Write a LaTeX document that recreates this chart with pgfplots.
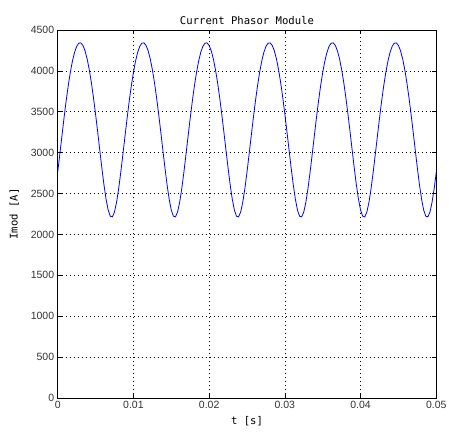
\documentclass[border=0pt]{standalone}
\usepackage{fontspec}
\setmainfont{Liberation Sans}
\newfontfamily\monofont{DejaVu Sans Mono}
\usepackage{pgfplots}
\pgfplotsset{compat=1.18}
\usepackage{pgfplotstable}

% Current phasor magnitude, 30 samples per 120 Hz ripple period
\pgfplotstableread{
t        imod
0.000000 2762.4
0.000278 2980.0
0.000556 3203.1
0.000833 3422.0
0.001111 3628.9
0.001389 3817.1
0.001667 3981.8
0.001944 4118.9
0.002222 4225.4
0.002500 4299.0
0.002778 4338.3
0.003056 4342.4
0.003333 4311.3
0.003611 4245.6
0.003889 4146.6
0.004167 4016.4
0.004444 3857.8
0.004722 3674.6
0.005000 3471.6
0.005278 3254.8
0.005556 3031.9
0.005833 2812.2
0.006111 2607.1
0.006389 2430.7
0.006667 2298.1
0.006944 2223.1
0.007222 2215.0
0.007500 2275.0
0.007778 2395.3
0.008056 2562.8
0.008333 2762.4
0.008611 2980.0
0.008889 3203.1
0.009167 3422.0
0.009444 3628.9
0.009722 3817.1
0.010000 3981.8
0.010278 4118.9
0.010556 4225.4
0.010833 4299.0
0.011111 4338.3
0.011389 4342.4
0.011667 4311.3
0.011944 4245.6
0.012222 4146.6
0.012500 4016.4
0.012778 3857.8
0.013056 3674.6
0.013333 3471.6
0.013611 3254.8
0.013889 3031.9
0.014167 2812.2
0.014444 2607.1
0.014722 2430.7
0.015000 2298.1
0.015278 2223.1
0.015556 2215.0
0.015833 2275.0
0.016111 2395.3
0.016389 2562.8
0.016667 2762.4
0.016944 2980.0
0.017222 3203.1
0.017500 3422.0
0.017778 3628.9
0.018056 3817.1
0.018333 3981.8
0.018611 4118.9
0.018889 4225.4
0.019167 4299.0
0.019444 4338.3
0.019722 4342.4
0.020000 4311.3
0.020278 4245.6
0.020556 4146.6
0.020833 4016.4
0.021111 3857.8
0.021389 3674.6
0.021667 3471.6
0.021944 3254.8
0.022222 3031.9
0.022500 2812.2
0.022778 2607.1
0.023056 2430.7
0.023333 2298.1
0.023611 2223.1
0.023889 2215.0
0.024167 2275.0
0.024444 2395.3
0.024722 2562.8
0.025000 2762.4
0.025278 2980.0
0.025556 3203.1
0.025833 3422.0
0.026111 3628.9
0.026389 3817.1
0.026667 3981.8
0.026944 4118.9
0.027222 4225.4
0.027500 4299.0
0.027778 4338.3
0.028056 4342.4
0.028333 4311.3
0.028611 4245.6
0.028889 4146.6
0.029167 4016.4
0.029444 3857.8
0.029722 3674.6
0.030000 3471.6
0.030278 3254.8
0.030556 3031.9
0.030833 2812.2
0.031111 2607.1
0.031389 2430.7
0.031667 2298.1
0.031944 2223.1
0.032222 2215.0
0.032500 2275.0
0.032778 2395.3
0.033056 2562.8
0.033333 2762.4
0.033611 2980.0
0.033889 3203.1
0.034167 3422.0
0.034444 3628.9
0.034722 3817.1
0.035000 3981.8
0.035278 4118.9
0.035556 4225.4
0.035833 4299.0
0.036111 4338.3
0.036389 4342.4
0.036667 4311.3
0.036944 4245.6
0.037222 4146.6
0.037500 4016.4
0.037778 3857.8
0.038056 3674.6
0.038333 3471.6
0.038611 3254.8
0.038889 3031.9
0.039167 2812.2
0.039444 2607.1
0.039722 2430.7
0.040000 2298.1
0.040278 2223.1
0.040556 2215.0
0.040833 2275.0
0.041111 2395.3
0.041389 2562.8
0.041667 2762.4
0.041944 2980.0
0.042222 3203.1
0.042500 3422.0
0.042778 3628.9
0.043056 3817.1
0.043333 3981.8
0.043611 4118.9
0.043889 4225.4
0.044167 4299.0
0.044444 4338.3
0.044722 4342.4
0.045000 4311.3
0.045278 4245.6
0.045556 4146.6
0.045833 4016.4
0.046111 3857.8
0.046389 3674.6
0.046667 3471.6
0.046944 3254.8
0.047222 3031.9
0.047500 2812.2
0.047778 2607.1
0.048056 2430.7
0.048333 2298.1
0.048611 2223.1
0.048889 2215.0
0.049167 2275.0
0.049444 2395.3
0.049722 2562.8
0.050000 2762.4
}\imodtable

\begin{document}
\begin{tikzpicture}
\useasboundingbox (-57.7pt,-34pt) rectangle (391.3pt,398pt);
\begin{axis}[
  at={(0pt,0pt)}, anchor=south west,
  scale only axis,
  width=378.6pt, height=368pt,
  xmin=0, xmax=0.05, ymin=0, ymax=4500,
  xtick={0,0.01,0.02,0.03,0.04,0.05},
  xticklabels={0,0.01,0.02,0.03,0.04,0.05},
  scaled x ticks=false,
  ytick={0,500,...,4500},
  /pgf/number format/1000 sep={},
  /pgf/number format/assume math mode=true,
  tick label style={font=\fontsize{10.5}{12}\selectfont, text=black!80},
  tick pos=both, tick align=inside,
  major tick length=4pt,
  tick style={black, line width=0.6pt},
  axis line style={black, line width=0.8pt},
  grid=major,
  major grid style={black, line width=0.6pt, dash pattern=on 0.8pt off 3.2pt},
  title={\monofont\fontsize{10.6}{12}\selectfont Current Phasor Module},
  title style={yshift=-4pt},
  xlabel={\monofont\fontsize{10.6}{12}\selectfont t [s]},
  ylabel={\monofont\fontsize{10.6}{12}\selectfont Imod [A]},
  xlabel style={yshift=-1pt},
  ylabel style={yshift=5pt},
]
\addplot[blue, line width=0.8pt] table[x=t, y=imod] {\imodtable};
\end{axis}
\end{tikzpicture}
\end{document}
